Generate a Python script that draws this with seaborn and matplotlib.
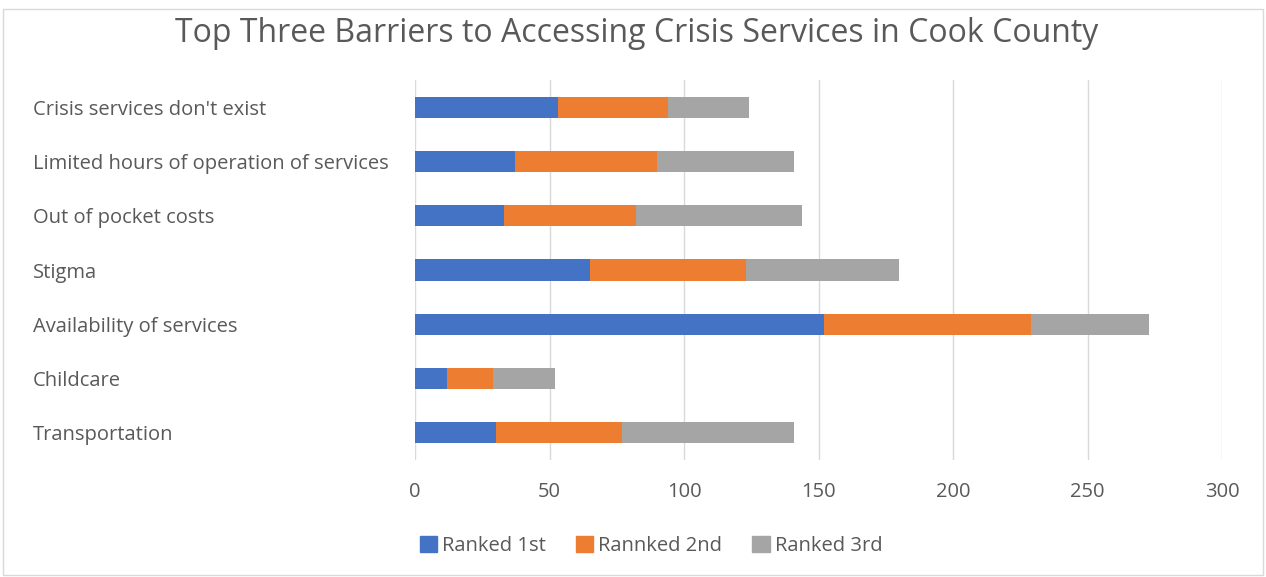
import numpy as np
import pandas as pd
import matplotlib
matplotlib.use("Agg")
import matplotlib.pyplot as plt
import matplotlib.patches as mpatches
import seaborn as sns

categories = ["Crisis services don't exist", "Limited hours of operation of services",
              "Out of pocket costs", "Stigma", "Availability of services",
              "Childcare", "Transportation"]
ranked_1st = [53, 37, 33, 65, 152, 12, 30]
ranked_2nd = [41, 53, 49, 58, 77, 17, 47]
ranked_3rd = [30, 51, 62, 57, 44, 23, 64]
series_names = ["Ranked 1st", "Rannked 2nd", "Ranked 3rd"]
x_ticks = [0, 50, 100, 150, 200, 250, 300]

COLORS = ["#4472C4", "#ED7D31", "#A5A5A5"]
TEXT = "#595959"

sns.set_theme(style="white")
plt.rcParams["font.family"] = ["Open Sans", "DejaVu Sans"]

df = pd.DataFrame({"Barrier": categories, "r1": ranked_1st, "r2": ranked_2nd, "r3": ranked_3rd})
df["c1"] = df["r1"]
df["c2"] = df["r1"] + df["r2"]
df["c3"] = df["c2"] + df["r3"]

fig = plt.figure(figsize=(12.66, 5.77), dpi=100)
ax = fig.add_axes([415/1266, 1-460/577, (1222-415)/1266, 380/577])

# draw totals first, then overlay shorter cumulative bars
for col, c in zip(["c3", "c2", "c1"], COLORS[::-1]):
    sns.barplot(data=df, x=col, y="Barrier", orient="h", color=c, width=0.39,
                saturation=1, linewidth=0, ax=ax, order=categories)

ax.set_xlim(0, 300)
ax.set_ylim(6.5, -0.5)
ax.set_xticks(x_ticks)
ax.set_xlabel(""); ax.set_ylabel("")
ax.xaxis.grid(True, color="#D9D9D9", linewidth=1)
ax.set_axisbelow(True)
for s in ax.spines.values():
    s.set_visible(False)
ax.tick_params(axis="x", length=0, pad=16, labelsize=14.5, labelcolor=TEXT)
ax.tick_params(axis="y", length=0, pad=275, labelsize=14.5, labelcolor=TEXT)
for lbl in ax.get_yticklabels():
    lbl.set_horizontalalignment("left")

fig.text(637/1266, 1-34/577, "Top Three Barriers to Accessing Crisis Services in Cook County",
         ha="center", va="center", fontsize=23, color=TEXT)

handles = [mpatches.Patch(color=c, label=n) for c, n in zip(COLORS, series_names)]
fig.legend(handles=handles, loc="center", bbox_to_anchor=(651/1266, 1-546/577), ncol=3,
           frameon=False, fontsize=14.5, labelcolor=TEXT, handlelength=0.85, handleheight=0.85,
           handletextpad=0.25, columnspacing=1.5)

fig.patches.append(mpatches.Rectangle((3/1266, 0.003), 1-6/1266, 1-11/577, transform=fig.transFigure,
                                      fill=False, edgecolor="#D9D9D9", linewidth=1))

fig.savefig("out.png", dpi=100)
